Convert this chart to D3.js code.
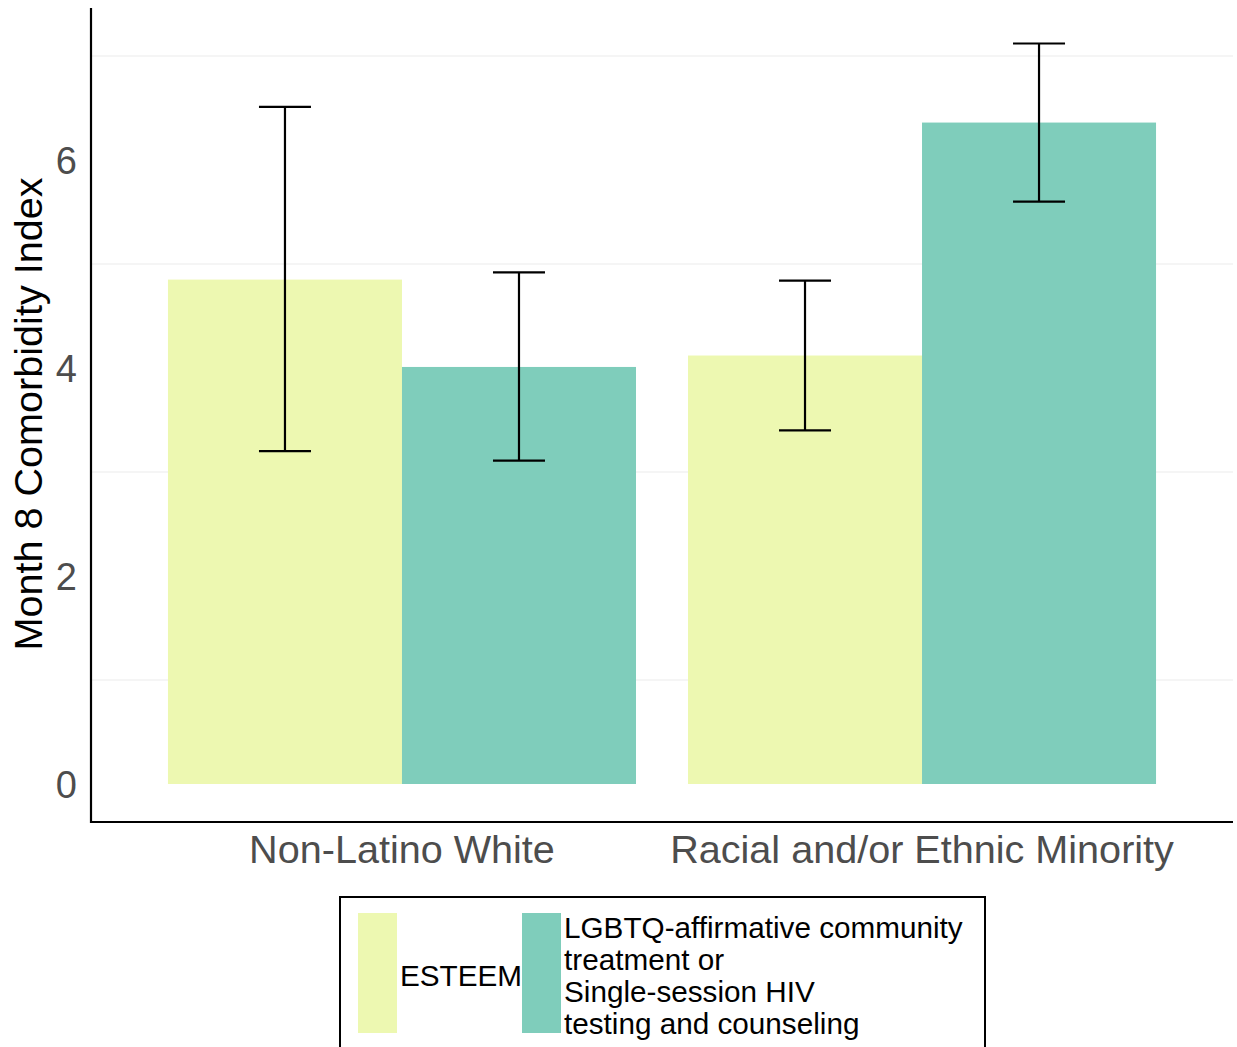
<!DOCTYPE html>
<html>
<head>
<meta charset="utf-8">
<script src="https://cdn.jsdelivr.net/npm/d3@7"></script>
<style>
  html, body { margin: 0; padding: 0; background: #fff; }
  svg { display: block; font-family: "Liberation Sans", Arial, sans-serif; }
</style>
</head>
<body>
<svg id="chart" width="1237" height="1047"></svg>
<script>
// ---- data ----
const categories = ["Non-Latino White", "Racial and/or Ethnic Minority"];
const seriesNames = ["ESTEEM", "LGBTQ-affirmative community treatment or Single-session HIV testing and counseling"];
const seriesLegendLines = [["ESTEEM"], ["LGBTQ-affirmative community", "treatment or", "Single-session HIV", "testing and counseling"]];
const esteemMeans = [4.85, 4.12];
const esteemLower = [3.20, 3.40];
const esteemUpper = [6.51, 4.84];
const compareMeans = [4.01, 6.36];
const compareLower = [3.11, 5.60];
const compareUpper = [4.92, 7.12];
const yTicks = [0, 2, 4, 6];
const yGrid = [1, 3, 5, 7];
const colors = ["#edf8b1", "#7fcdbb"];

const series = [
  {name: seriesNames[0], means: esteemMeans, lo: esteemLower, hi: esteemUpper},
  {name: seriesNames[1], means: compareMeans, lo: compareLower, hi: compareUpper}
];

const svg = d3.select("#chart");
const L = 91, R = 1233, T = 8, B = 822;

const y = d3.scaleLinear().domain([-0.3654, 7.4615]).range([B, T]);
const x = d3.scaleBand().domain(categories).range([L, R]).paddingInner(0.1).paddingOuter(0.148);
const xs = d3.scaleBand().domain(seriesNames).range([0, x.bandwidth()]).padding(0);
const color = d3.scaleOrdinal().domain(seriesNames).range(colors);

// gridlines
svg.append("g").selectAll("line").data(yGrid).join("line")
  .attr("x1", L).attr("x2", R)
  .attr("y1", d => y(d)).attr("y2", d => y(d))
  .attr("stroke", "#ebebeb").attr("stroke-width", 1);

// bars
const flat = [];
series.forEach(s => categories.forEach((c, i) => flat.push({cat: c, s: s.name, v: s.means[i], lo: s.lo[i], hi: s.hi[i]})));

svg.append("g").selectAll("rect").data(flat).join("rect")
  .attr("x", d => x(d.cat) + xs(d.s))
  .attr("width", xs.bandwidth())
  .attr("y", d => y(d.v))
  .attr("height", d => y(0) - y(d.v))
  .attr("fill", d => color(d.s));

// error bars
const capW = x.step() * 0.1;
const eb = svg.append("g").attr("stroke", "#000").attr("stroke-width", 2.2).attr("fill", "none");
flat.forEach(d => {
  const cx = x(d.cat) + xs(d.s) + xs.bandwidth() / 2;
  eb.append("line").attr("x1", cx).attr("x2", cx).attr("y1", y(d.hi)).attr("y2", y(d.lo));
  eb.append("line").attr("x1", cx - capW / 2).attr("x2", cx + capW / 2).attr("y1", y(d.hi)).attr("y2", y(d.hi));
  eb.append("line").attr("x1", cx - capW / 2).attr("x2", cx + capW / 2).attr("y1", y(d.lo)).attr("y2", y(d.lo));
});

// axes
const yAxis = d3.axisLeft(y).tickValues(yTicks).tickSize(0).tickPadding(14).tickFormat(d3.format("d"));
const gy = svg.append("g").attr("transform", `translate(${L},0)`).call(yAxis);
gy.select(".domain").remove();
gy.selectAll("text").attr("font-size", 38).attr("fill", "#4d4d4d").attr("font-family", "Liberation Sans, Arial, sans-serif").attr("dy", "0.36em");

const xAxis = d3.axisBottom(x).tickSize(0).tickPadding(13);
const gx = svg.append("g").attr("transform", `translate(0,${B})`).call(xAxis);
gx.select(".domain").remove();
gx.selectAll("text").attr("font-size", 39.6).attr("fill", "#4d4d4d").attr("font-family", "Liberation Sans, Arial, sans-serif");

// axis lines
svg.append("line").attr("x1", L).attr("x2", L).attr("y1", T).attr("y2", B + 1).attr("stroke", "#000").attr("stroke-width", 2.2);
svg.append("line").attr("x1", L - 1).attr("x2", R).attr("y1", B).attr("y2", B).attr("stroke", "#000").attr("stroke-width", 2.2);

// y title
svg.append("text")
  .attr("transform", `translate(42,${(T + B) / 2 - 1}) rotate(-90)`)
  .attr("text-anchor", "middle")
  .attr("font-size", 39.6).attr("fill", "#000")
  .text("Month 8 Comorbidity Index");

// legend
const lg = svg.append("g");
lg.append("rect").attr("x", 340).attr("y", 897).attr("width", 645).attr("height", 170)
  .attr("fill", "#fff").attr("stroke", "#000").attr("stroke-width", 2);
const keyX = [358, 522], keyW = 39, keyTop = 913, keyH = 120;
seriesNames.forEach((n, i) => {
  lg.append("rect").attr("x", keyX[i]).attr("y", keyTop).attr("width", keyW).attr("height", keyH).attr("fill", color(n));
  const lines = seriesLegendLines[i];
  const lh = 32;
  const startY = keyTop + keyH / 2 - (lines.length - 1) * lh / 2 + 2;
  const t = lg.append("text").attr("font-size", 29.7).attr("fill", "#000");
  lines.forEach((ln, j) => {
    t.append("tspan").attr("x", keyX[i] + keyW + 3).attr("y", startY + j * lh).attr("dy", "0.36em").text(ln);
  });
});
</script>
</body>
</html>
